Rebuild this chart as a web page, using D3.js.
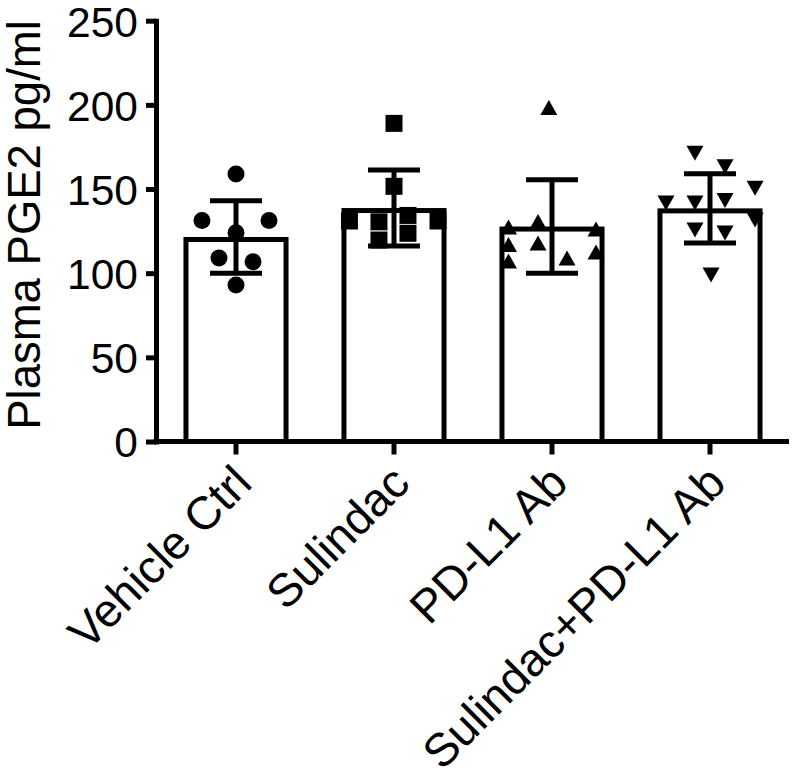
<!DOCTYPE html>
<html>
<head>
<meta charset="utf-8">
<script src="https://cdn.jsdelivr.net/npm/d3@7"></script>
<style>
  html, body { margin: 0; padding: 0; background: #fff; }
  svg { display: block; }
  text { font-family: "Liberation Sans", Arial, Helvetica, sans-serif; fill: #000; }
</style>
</head>
<body>
<svg id="chart" width="795" height="782"></svg>
<script>
// ---- data ----
const categories = ["Vehicle Ctrl", "Sulindac", "PD-L1 Ab", "Sulindac+PD-L1 Ab"];
const means = [121.5, 138.7, 127.7, 138.5];
const sds = [21.5, 22.6, 27.8, 20.6];
const yTicks = [0, 50, 100, 150, 200, 250];
const yTitle = "Plasma PGE2 pg/ml";

// individual animals per group
const vehicleValues = [158.9, 131.3, 131.3, 124.0, 109.0, 106.8, 93.0];
const sulindacValues = [189.0, 151.6, 131.0, 131.0, 130.5, 119.7, 134.3, 123.7];
const pdl1Values = [198.5, 127.4, 117.0, 107.2, 130.7, 118.0, 109.0, 126.2, 112.6];
const comboValues = [171.2, 163.3, 150.4, 141.7, 141.7, 143.2, 131.6, 125.7, 123.9, 98.9];

// horizontal scatter slot of each point (fraction of bar width)
const vehicleSpread = [0, -0.324, 0.314, 0, -0.162, 0.162, 0];
const sulindacSpread = [0, 0, -0.424, 0.419, -0.143, -0.143, 0.133, 0.133];
const pdl1Spread = [-0.03, -0.414, -0.414, -0.414, -0.133, -0.133, 0.143, 0.419, 0.419];
const comboSpread = [-0.143, 0.143, 0.429, -0.419, -0.143, 0.143, 0.429, -0.143, 0.143, 0.01];

const groupValues = [vehicleValues, sulindacValues, pdl1Values, comboValues];
const groupSpread = [vehicleSpread, sulindacSpread, pdl1Spread, comboSpread];
const markerShapes = ["circle", "square", "triangleUp", "triangleDown"];

// ---- layout ----
const svg = d3.select("#chart");
const sw = 5; // line weight

const x = d3.scaleBand()
  .domain(categories)
  .range([157, 789])
  .paddingInner(0.335)
  .paddingOuter(0.1675);

const y = d3.scaleLinear()
  .domain([0, 250])
  .range([441.5, 20.7]);

// bars (stroke drawn inside the value)
svg.append("g").selectAll("rect")
  .data(categories)
  .join("rect")
  .attr("x", d => x(d) + sw / 2)
  .attr("y", (d, i) => y(means[i]) + sw / 2)
  .attr("width", x.bandwidth() - sw)
  .attr("height", (d, i) => y(0) - y(means[i]) - sw / 2)
  .attr("fill", "#fff")
  .attr("stroke", "#000")
  .attr("stroke-width", sw);

// points
const half = 8.5;
function markerPath(shape) {
  const p = d3.path();
  if (shape === "circle") {
    p.moveTo(half, 0); p.arc(0, 0, half, 0, 2 * Math.PI);
  } else if (shape === "square") {
    p.rect(-half, -half, 2 * half, 2 * half);
  } else if (shape === "triangleUp") {
    p.moveTo(-half, 7.5); p.lineTo(half, 7.5); p.lineTo(0, -7.5); p.closePath();
  } else {
    p.moveTo(-half, -7.5); p.lineTo(half, -7.5); p.lineTo(0, 7.5); p.closePath();
  }
  return p.toString();
}

const pts = [];
categories.forEach((c, gi) => {
  groupValues[gi].forEach((v, k) => {
    pts.push({ c, v, s: groupSpread[gi][k], shape: markerShapes[gi] });
  });
});

svg.append("g").selectAll("path")
  .data(pts)
  .join("path")
  .attr("d", d => markerPath(d.shape))
  .attr("transform", d => `translate(${x(d.c) + x.bandwidth() / 2 + d.s * x.bandwidth()},${y(d.v)})`)
  .attr("fill", "#000");

// error bars (mean ± SD)
const capHalf = 26;
const eb = svg.append("g").attr("stroke", "#000").attr("stroke-width", sw);
categories.forEach((c, i) => {
  const cx = x(c) + x.bandwidth() / 2;
  eb.append("line").attr("x1", cx).attr("x2", cx)
    .attr("y1", y(means[i] + sds[i])).attr("y2", y(means[i] - sds[i]));
  eb.append("line").attr("x1", cx - capHalf).attr("x2", cx + capHalf)
    .attr("y1", y(means[i] + sds[i])).attr("y2", y(means[i] + sds[i]));
  eb.append("line").attr("x1", cx - capHalf).attr("x2", cx + capHalf)
    .attr("y1", y(means[i] - sds[i])).attr("y2", y(means[i] - sds[i]));
});

// y axis
const yAxis = svg.append("g")
  .attr("transform", "translate(156,0)")
  .call(d3.axisLeft(y).tickValues(yTicks).tickSize(10).tickSizeOuter(0).tickPadding(8));
yAxis.select(".domain").attr("stroke-width", sw).attr("stroke-linecap", "square");
yAxis.selectAll(".tick line").attr("stroke-width", sw);
yAxis.selectAll(".tick text")
  .style("font-size", "42.5px")
  .style("font-family", "'Liberation Sans', Arial, sans-serif")
  .attr("fill", "#000")
  .attr("dy", "0.36em");

// x axis
const xAxis = svg.append("g")
  .attr("transform", `translate(0,${y(0)})`)
  .call(d3.axisBottom(x).tickSize(13).tickSizeOuter(0).tickPadding(0));
xAxis.select(".domain").attr("stroke-width", sw).attr("d", `M${156 - sw / 2},0H789`);
xAxis.selectAll(".tick line").attr("stroke-width", sw);
xAxis.selectAll(".tick text")
  .style("font-size", "46.5px")
  .style("font-family", "'Liberation Sans', Arial, sans-serif")
  .attr("fill", "#000")
  .attr("text-anchor", "end")
  .attr("dy", null)
  .attr("y", null)
  .attr("transform", "translate(18,44) rotate(-45)");

// y title
svg.append("text")
  .attr("transform", "translate(40,225) rotate(-90)")
  .attr("text-anchor", "middle")
  .style("font-size", "45.5px")
  .text(yTitle);
</script>
</body>
</html>
